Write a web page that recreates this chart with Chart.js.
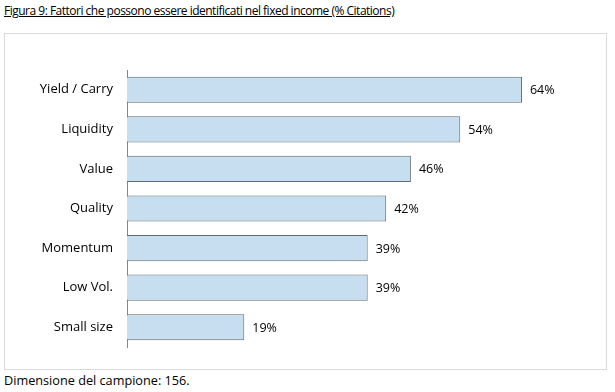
<!DOCTYPE html>
<html>
<head>
<meta charset="utf-8">
<script src="https://cdn.jsdelivr.net/npm/chart.js@4/dist/chart.umd.min.js"></script>
<style>
  html, body { margin: 0; padding: 0; background: #fff; }
  body { width: 615px; height: 392px; position: relative; font-family: "Open Sans", sans-serif; color: #000; }
  #title { position: absolute; left: 4px; top: 2px; font-size: 12px; letter-spacing: -0.5px; text-decoration: underline; white-space: nowrap; }
  #frame { position: absolute; left: 4px; top: 33px; width: 601px; height: 335px; border: 1px solid #d9d9d9; }
  #chartWrap { position: absolute; left: 0; top: 0; width: 601px; height: 335px; }
  #footer { position: absolute; left: 4px; top: 371px; font-size: 12.7px; white-space: nowrap; }
</style>
</head>
<body>
<div id="title">Figura 9: Fattori che possono essere identificati nel fixed income (% Citations)</div>
<div id="frame"><div id="chartWrap"><canvas id="factorsChart"></canvas></div></div>
<div id="footer">Dimensione del campione: 156.</div>
<script>
// dati
const categories = ['Yield / Carry', 'Liquidity', 'Value', 'Quality', 'Momentum', 'Low Vol.', 'Small size'];
const citations = [64, 54, 46, 42, 39, 39, 19];

// etichette % a destra delle barre
const barLabels = {
    id: 'barLabels',
    afterDatasetsDraw(chart) {
        const ctx = chart.ctx;
        const meta = chart.getDatasetMeta(0);
        ctx.save();
        ctx.font = '12.5px "Open Sans", sans-serif';
        ctx.fillStyle = '#000';
        ctx.textAlign = 'left';
        ctx.textBaseline = 'middle';
        meta.data.forEach((bar, i) => {
            ctx.fillText(citations[i] + '%', bar.x + 8, bar.y + 1);
        });
        ctx.restore();
    }
};

const ctx = document.getElementById('factorsChart').getContext('2d');
new Chart(ctx, {
    type: 'bar',
    data: {
        labels: categories,
        datasets: [{
            data: citations,
            backgroundColor: '#c6deef',
            borderColor: '#5f6a72',
            borderWidth: 1,
            barPercentage: 0.66,
            categoryPercentage: 1
        }]
    },
    options: {
        indexAxis: 'y',
        responsive: true,
        maintainAspectRatio: false,
        animation: false,
        layout: { padding: { top: 36, bottom: 22, right: 47, left: 0 } },
        scales: {
            x: { display: false, min: 0, max: 70 },
            y: {
                grid: { display: false, drawTicks: false },
                border: { display: true, color: '#868686', width: 1 },
                ticks: { color: '#000', padding: 14, font: { family: '"Open Sans", sans-serif', size: 13 } },
                afterFit: (scale) => { scale.width = 122; }
            }
        },
        plugins: {
            legend: { display: false },
            tooltip: { enabled: false }
        }
    },
    plugins: [barLabels]
});
</script>
</body>
</html>
